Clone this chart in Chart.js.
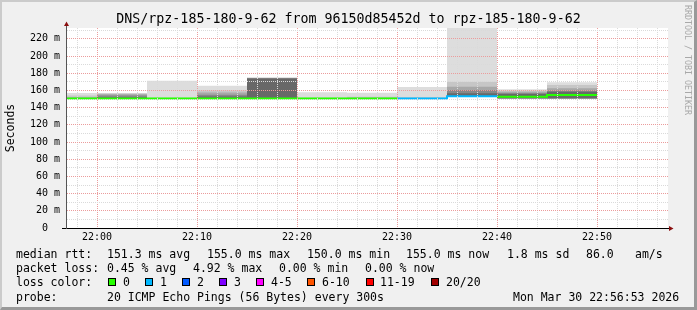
<!DOCTYPE html>
<html>
<head>
<meta charset="utf-8">
<script src="https://cdn.jsdelivr.net/npm/chart.js@4.4.1/dist/chart.umd.min.js"></script>
<style>
  html, body { margin: 0; padding: 0; }
  body { position: relative; width: 697px; height: 310px; overflow: hidden; background: #f0f0f0;
         font-family: "DejaVu Sans Mono", monospace; color: #000; }
  #frame { position: absolute; left: 0; top: 0; width: 697px; height: 310px; box-sizing: border-box;
           border-top: 2px solid #cbcbcb; border-left: 2px solid #cbcbcb;
           border-right: 3px solid #999999; border-bottom: 3px solid #999999; }
  #smoke { position: absolute; left: 0; top: 0; }
  #title { position: absolute; left: 0; top: 11px; width: 697px; text-align: center;
           font-size: 13.3px; line-height: 16px; white-space: pre; }
  #vendor { position: absolute; left: 683px; top: 5px; writing-mode: vertical-rl;
            font-size: 8.3px; line-height: 10px; color: #a8a8a8; white-space: pre; }
  .lg { position: absolute; font-size: 11.5px; line-height: 14px; white-space: pre; }
  .box { position: absolute; width: 8px; height: 8px; box-sizing: border-box; border: 1px solid #000; top: 278px; }
</style>
</head>
<body>
<div id="frame"></div>
<canvas id="smoke" width="697" height="310"></canvas>
<div id="title">DNS/rpz-185-180-9-62 from 96150d85452d to rpz-185-180-9-62</div>
<div id="vendor">RRDTOOL / TOBI OETIKER</div>

<!-- legend, laid out the way rrdtool spaces it -->
<div class="lg" style="left:16px;top:247px">median rtt:</div>
<div class="lg" style="left:107px;top:247px">151.3 ms avg</div>
<div class="lg" style="left:207px;top:247px">155.0 ms max</div>
<div class="lg" style="left:307px;top:247px">150.0 ms min</div>
<div class="lg" style="left:406px;top:247px">155.0 ms now</div>
<div class="lg" style="left:507px;top:247px">1.8 ms sd</div>
<div class="lg" style="left:586px;top:247px">86.0</div>
<div class="lg" style="left:635px;top:247px">am/s</div>

<div class="lg" style="left:16px;top:261px">packet loss:</div>
<div class="lg" style="left:107px;top:261px">0.45 % avg</div>
<div class="lg" style="left:193px;top:261px">4.92 % max</div>
<div class="lg" style="left:279px;top:261px">0.00 % min</div>
<div class="lg" style="left:365px;top:261px">0.00 % now</div>

<div class="lg" style="left:16px;top:275px">loss color:</div>
<div class="box" style="left:108px;background:#26ff00"></div><div class="lg" style="left:123px;top:275px">0</div>
<div class="box" style="left:145px;background:#00b8ff"></div><div class="lg" style="left:160px;top:275px">1</div>
<div class="box" style="left:182px;background:#0059ff"></div><div class="lg" style="left:197px;top:275px">2</div>
<div class="box" style="left:219px;background:#7e00ff"></div><div class="lg" style="left:234px;top:275px">3</div>
<div class="box" style="left:256px;background:#ff00ff"></div><div class="lg" style="left:271px;top:275px">4-5</div>
<div class="box" style="left:307px;background:#ff5500"></div><div class="lg" style="left:322px;top:275px">6-10</div>
<div class="box" style="left:366px;background:#ff0000"></div><div class="lg" style="left:380px;top:275px">11-19</div>
<div class="box" style="left:431px;background:#a10000"></div><div class="lg" style="left:446px;top:275px">20/20</div>

<div class="lg" style="left:16px;top:290px">probe:</div>
<div class="lg" style="left:107px;top:290px">20 ICMP Echo Pings (56 Bytes) every 300s</div>
<div class="lg" style="left:513px;top:290px">Mon Mar 30 22:56:53 2026</div>

<script>
// ── Data: one 5-minute step per entry (step start time) ─────────────
const stepStart = ["21:55", "22:00", "22:05", "22:10", "22:15", "22:20",
                   "22:25", "22:30", "22:35", "22:40", "22:45"];
const stepEnd = "22:50";

// median rtt in ms and lost pings (of 20) per step
const medianRtt = [150.6, 150.6, 150.6, 150.6, 150.6, 150.6, 150.6, 150.7, 153.3, 152.7, 154.6];
const lostPings = [0, 0, 0, 0, 0, 0, 0, 1, 1, 0, 0];

// smoke bands (ms), outermost (1) to innermost (5)
const smoke1Lo = [150.4, 150.4, 150.4, 150.4, 150.4, 150.4, 150.4, 150.3, 152.4, 150.4, 150.0];
const smoke1Hi = [157.0, 157.0, 171.3, 165.5, 175.0, 157.8, 157.4, 164.0, 245.0, 161.3, 169.4];
const smoke2Lo = [150.5, 150.5, 150.5, 150.5, 150.5, 150.5, 150.5, 150.4, 152.6, 150.5, 150.2];
const smoke2Hi = [154.0, 156.5, 151.5, 160.0, 174.8, 151.5, 152.7, 152.0, 170.1, 159.5, 166.3];
const smoke3Lo = [150.5, 150.5, 150.5, 150.5, 150.6, 150.5, 150.5, 150.5, 152.8, 150.6, 150.4];
const smoke3Hi = [152.0, 155.5, 151.0, 157.5, 174.5, 151.0, 151.5, 151.0, 164.3, 158.5, 162.5];
const smoke4Lo = [150.6, 150.6, 150.6, 150.6, 150.7, 150.6, 150.6, 150.5, 152.9, 150.7, 150.6];
const smoke4Hi = [151.0, 154.0, 150.8, 155.0, 174.2, 150.8, 151.0, 150.8, 160.5, 157.0, 160.0];
const smoke5Lo = [150.6, 150.6, 150.6, 150.6, 150.8, 150.6, 150.6, 150.6, 153.0, 150.8, 150.8];
const smoke5Hi = [150.8, 152.0, 150.7, 153.0, 173.8, 150.7, 150.8, 150.7, 156.7, 155.8, 158.5];

// loss colour legend (index = lost pings bucket)
const lossLabels = ["0", "1", "2", "3", "4-5", "6-10", "11-19", "20/20"];
const lossColors = ["#26ff00", "#00b8ff", "#0059ff", "#7e00ff", "#ff00ff", "#ff5500", "#ff0000", "#a10000"];

// axis range
const viewStart = "21:57";
const viewEnd = "22:57";

// ── helpers ────────────────────────────────────────────────────────
const mono = "'DejaVu Sans Mono', monospace";
const MGRID = "#eb9c9c";
const GRID = "#dadada";

function toMin(t) {
  const p = t.split(":");
  return Number(p[0]) * 60 + Number(p[1]);
}
function fmtMin(v) {
  const h = Math.floor(v / 60), m = v % 60;
  return String(h).padStart(2, "0") + ":" + String(m).padStart(2, "0");
}
function stepped(values) {
  const pts = stepStart.map((t, i) => ({ x: toMin(t), y: values[i] }));
  pts.push({ x: toMin(stepEnd), y: values[values.length - 1] });
  return pts;
}
function lossColor(n) {
  if (n <= 3) return lossColors[n];
  if (n <= 5) return lossColors[4];
  if (n <= 10) return lossColors[5];
  if (n <= 19) return lossColors[6];
  return lossColors[7];
}

const smokeBands = [
  [smoke5Lo, smoke5Hi, "#686868"],
  [smoke4Lo, smoke4Hi, "#888888"],
  [smoke3Lo, smoke3Hi, "#a8a8a8"],
  [smoke2Lo, smoke2Hi, "#c6c6c6"],
  [smoke1Lo, smoke1Hi, "#dddddd"],
];

// median first so it is drawn on top; inner bands before outer ones
const datasets = [{
  label: "median rtt",
  data: stepped(medianRtt),
  stepped: true,
  borderWidth: 2,
  borderColor: lossColor(0),
  segment: { borderColor: (ctx) => lossColor(lostPings[ctx.p0DataIndex]) },
  fill: false,
}];
smokeBands.forEach(([lo, hi, shade]) => {
  datasets.push({ data: stepped(lo), stepped: true, borderColor: "rgba(0,0,0,0)", borderWidth: 0, fill: false });
  datasets.push({ data: stepped(hi), stepped: true, borderColor: "rgba(0,0,0,0)", borderWidth: 0,
                  fill: "-1", backgroundColor: shade });
});

// white canvas + rrdtool style axes with arrows
const rrdFrame = {
  id: "rrdFrame",
  beforeDraw(chart) {
    const { ctx, chartArea: a } = chart;
    ctx.save();
    ctx.fillStyle = "#ffffff";
    ctx.fillRect(a.left, a.top, a.right - a.left, a.bottom - a.top);
    ctx.restore();
  },
  afterDraw(chart) {
    const { ctx, chartArea: a } = chart;
    ctx.save();
    ctx.lineWidth = 1;
    ctx.strokeStyle = "#000000";
    ctx.beginPath();
    ctx.moveTo(a.left - 5, a.bottom + 0.5);
    ctx.lineTo(a.right + 2, a.bottom + 0.5);
    ctx.stroke();
    ctx.strokeStyle = "#555555";
    ctx.beginPath();
    ctx.moveTo(a.left - 0.5, a.bottom + 1);
    ctx.lineTo(a.left - 0.5, a.top - 3);
    ctx.stroke();
    ctx.fillStyle = "#8b1010";
    ctx.beginPath();
    ctx.moveTo(a.left - 0.5, a.top - 6.5);
    ctx.lineTo(a.left - 3, a.top - 2);
    ctx.lineTo(a.left + 2, a.top - 2);
    ctx.closePath();
    ctx.fill();
    ctx.beginPath();
    ctx.moveTo(a.right + 5.5, a.bottom + 0.5);
    ctx.lineTo(a.right + 1, a.bottom - 2);
    ctx.lineTo(a.right + 1, a.bottom + 3);
    ctx.closePath();
    ctx.fill();
    ctx.restore();
  },
};

new Chart(document.getElementById("smoke"), {
  type: "line",
  data: { datasets },
  plugins: [rrdFrame],
  options: {
    responsive: false,
    animation: false,
    layout: { padding: { top: 28, right: 29, left: 0, bottom: 0 } },
    elements: { point: { radius: 0, hoverRadius: 0 } },
    plugins: { legend: { display: false }, tooltip: { enabled: false } },
    scales: {
      x: {
        type: "linear",
        min: toMin(viewStart),
        max: toMin(viewEnd) + 0.1,
        ticks: {
          stepSize: 2,
          autoSkip: false,
          includeBounds: false,
          maxRotation: 0,
          padding: 3,
          color: "#000",
          font: { family: mono, size: 10 },
          callback: (v) => (v % 10 === 0 ? fmtMin(v) : ""),
        },
        grid: {
          drawTicks: false,
          z: 1,
          color: (ctx) => (ctx.tick && ctx.tick.value % 10 === 0 ? MGRID : GRID),
        },
        border: { display: false, dash: [1, 1] },
        afterFit: (s) => { s.height = 82; },
      },
      y: {
        min: 0,
        max: 232.6,
        ticks: {
          stepSize: 10,
          autoSkip: false,
          includeBounds: false,
          padding: 7,
          color: "#000",
          font: { family: mono, size: 10 },
          callback: (v) => (v === 0 ? "0  " : v % 20 === 0 ? v + " m" : ""),
        },
        grid: {
          drawTicks: false,
          z: 1,
          color: (ctx) => (ctx.tick && ctx.tick.value % 20 === 0 ? MGRID : GRID),
        },
        border: { display: false, dash: [1, 1] },
        title: {
          display: true,
          text: "Seconds",
          color: "#000",
          font: { family: mono, size: 11.5 },
          padding: { top: 4, bottom: 0 },
        },
        afterFit: (s) => { s.width = 67; },
      },
    },
  },
});
</script>
</body>
</html>
